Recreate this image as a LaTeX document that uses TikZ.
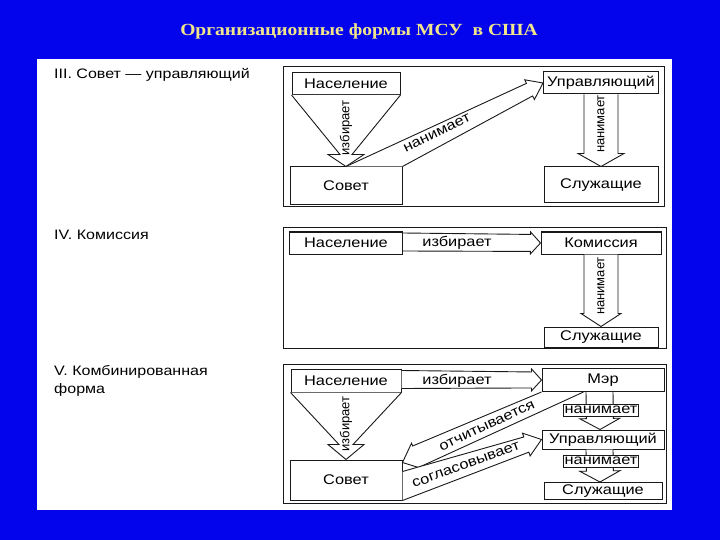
\documentclass[tikz,border=0pt]{standalone}
\usepackage{fontspec}
\setmainfont{Liberation Sans}
\newfontfamily\schemefont[FakeStretch=1.17]{Liberation Sans}
\newfontfamily\titlefont[FakeStretch=1.15]{Liberation Serif}
\usetikzlibrary{calc}
\definecolor{slideblue}{RGB}{4,4,236}
\definecolor{titleyellow}{RGB}{242,230,140}
\tikzset{
    box/.style={draw=black!90, fill=white, line width=1pt, inner sep=0pt,
        font=\schemefont\fontsize{14}{15}\selectfont},
    tag/.style={box, minimum width=75, minimum height=12, line width=0.8pt},
    hollow/.style={draw=black!90, fill=white, line width=0.9pt, line join=miter},
    frame/.style={draw=black!90, line width=1pt},
    vlabel/.style={rotate=90, inner sep=0pt, font=\fontsize{13}{14}\selectfont},
    dlabel/.style={inner sep=0pt, font=\schemefont\fontsize{14}{15}\selectfont},
    formname/.style={anchor=west, align=left, inner sep=0pt,
        font=\schemefont\fontsize{13.7}{18}\selectfont}
}
% hollow block arrow: start points, tip, shaft half width, head half width, head length
\newcommand{\hollowarrow}[6]{%
    \path ($(#1)!0.5!(#2)$) coordinate (ha-m);
    \path ($(#3)!#6!(ha-m)$) coordinate (ha-n);
    \draw[hollow] (#1) -- ($(ha-n)!#4!90:(#3)$) -- ($(ha-n)!#5!90:(#3)$) -- (#3)
        -- ($(ha-n)!#5!-90:(#3)$) -- ($(ha-n)!#4!-90:(#3)$) -- (#2);
}
\begin{document}
\begin{tikzpicture}[x=1pt,y=-1pt]
    \useasboundingbox[fill=slideblue] (0,0) rectangle (720,540);
    \fill[white] (37,59) rectangle (672,510);
    \node[text=titleyellow, font=\titlefont\bfseries\fontsize{17}{20}\selectfont] (title) at (359,31) {Организационные формы МСУ \ в США};

    % III
    \node[formname] (form3) at (54,75) {III. Совет — управляющий};
    \draw[frame] (283,67) rectangle (664,207);
    \node[box, minimum width=108, minimum height=22] (nas3) at (346,83.5) {Население};
    \node[box, minimum width=112, minimum height=38] (sov3) at (346,186) {Совет};
    \node[box, minimum width=115, minimum height=22] (upr3) at (601,83) {Управляющий};
    \node[box, minimum width=114, minimum height=36] (slu3) at (601,185) {Служащие};
    \hollowarrow{nas3.south east}{nas3.south west}{sov3.north}{6pt}{18pt}{12pt}
    \node[vlabel] (izb3) at (346,128) {избирает};
    \hollowarrow{sov3.north}{sov3.north east}{upr3.west}{7pt}{11pt}{15pt}
    \node[dlabel, rotate=25.6] (nan3d) at (437,133) {нанимает};
    \coordinate (upr3-r) at ($(upr3.south)+(17,0)$);
    \coordinate (upr3-l) at ($(upr3.south)+(-17,0)$);
    \hollowarrow{upr3-r}{upr3-l}{slu3.north}{17pt}{23pt}{13pt}
    \node[vlabel] (nan3v) at (601,124) {нанимает};

    % IV
    \node[formname] (form4) at (54,235) {IV. Комиссия};
    \draw[frame] (283,228) rectangle (666,348);
    \node[box, minimum width=113, minimum height=22] (nas4) at (346,243) {Население};
    \node[box, minimum width=120, minimum height=22] (kom4) at (601,243) {Комиссия};
    \node[box, minimum width=114, minimum height=20] (slu4) at (601,337) {Служащие};
    \coordinate (nas4-u) at ($(nas4.north east)+(0,1.5)$);
    \coordinate (nas4-d) at ($(nas4.south east)+(0,-3.5)$);
    \hollowarrow{nas4-u}{nas4-d}{kom4.west}{8.5pt}{11pt}{10pt}
    \node[dlabel] (izb4) at (457,242.5) {избирает};
    \coordinate (kom4-r) at ($(kom4.south)+(17,0)$);
    \coordinate (kom4-l) at ($(kom4.south)+(-17,0)$);
    \hollowarrow{kom4-r}{kom4-l}{slu4.north}{17pt}{20pt}{13pt}
    \node[vlabel] (nan4v) at (601,286) {нанимает};

    % V
    \node[formname] (form5) at (54,381) {V. Комбинированная\\форма};
    \draw[frame] (283,364) rectangle (666,503);
    \node[box, minimum width=110, minimum height=23] (nas5) at (346,380.5) {Население};
    \node[box, minimum width=112, minimum height=40] (sov5) at (346,480) {Совет};
    \node[box, minimum width=122, minimum height=23] (mer5) at (603,380) {Мэр};
    \node[box, minimum width=122, minimum height=19] (upr5) at (603,439.5) {Управляющий};
    \node[box, minimum width=118, minimum height=17] (slu5) at (603,491) {Служащие};
    \coordinate (nas5-u) at ($(nas5.north east)+(0,2)$);
    \coordinate (nas5-d) at ($(nas5.south east)+(0,-4)$);
    \hollowarrow{nas5-u}{nas5-d}{mer5.west}{8pt}{11pt}{10pt}
    \node[dlabel] (izb5h) at (457,381) {избирает};
    \hollowarrow{nas5.south east}{nas5.south west}{sov5.north}{7pt}{18pt}{15pt}
    \node[vlabel] (izb5v) at (346,424) {избирает};
    \coordinate (mer5-r) at ($(mer5.south)+(10,0)$);
    \coordinate (mer5-l) at ($(mer5.south)+(-17,0)$);
    \coordinate (upr5-t) at ($(upr5.north)+(-3,0)$);
    \hollowarrow{mer5-r}{mer5-l}{upr5-t}{13.5pt}{20pt}{11pt}
    \node[tag] (nan5a) at (601,410) {нанимает};
    \coordinate (upr5-r) at ($(upr5.south)+(10,0)$);
    \coordinate (upr5-l) at ($(upr5.south)+(-17,0)$);
    \coordinate (slu5-t) at ($(slu5.north)+(-3,0)$);
    \hollowarrow{upr5-r}{upr5-l}{slu5-t}{13.5pt}{20pt}{11pt}
    \node[tag] (nan5b) at (601,461) {нанимает};
    \coordinate (mer5-o) at ($(mer5.south west)+(42,0)$);
    \coordinate (sov5-t) at ($(sov5.north east)+(0,3)$);
    \hollowarrow{mer5-o}{mer5.south west}{sov5-t}{11pt}{14pt}{16pt}
    \node[dlabel, rotate=25] (otch5) at (487,426) {отчитывается};
    \coordinate (sov5-s) at ($(sov5.north east)+(0,12)$);
    \hollowarrow{sov5-s}{sov5.south east}{upr5.west}{8pt}{12pt}{16pt}
    \node[dlabel, rotate=20] (sogl5) at (466,465) {согласовывает};
\end{tikzpicture}
\end{document}
